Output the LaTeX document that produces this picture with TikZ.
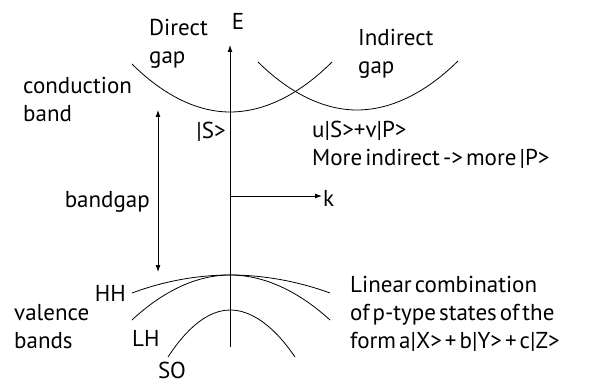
\documentclass[tikz,border=0pt]{standalone}
\usepackage{fontspec}
\setmainfont{PT Sans}[WordSpace=0.5]
\usetikzlibrary{arrows.meta}

\begin{document}
\begin{tikzpicture}[x=1pt,y=-1pt,>={Latex[length=7pt,width=5pt]},
  lbl/.style={inner sep=0pt,align=left,font=\fontsize{23}{28}\selectfont},
  band/.style={line width=0.8pt},
  axis/.style={line width=0.9pt,->}]
\useasboundingbox (0,0) rectangle (591,385);
% axes
\coordinate (e_bot) at (230,347);
\coordinate (e_top) at (230,45);
\coordinate (k_org) at (230,196);
\coordinate (k_end) at (322,196);
\draw[axis] (e_bot)--(e_top);
\draw[axis] (k_org)--(k_end);
\node[lbl] (lbl_e) at (238,21) {E};
\node[lbl,anchor=west] (lbl_k) at ([xshift=1pt,yshift=-2pt]k_end) {k};
% conduction bands
\draw[band] (132,64) parabola bend (230,112) (332,62);
\draw[band] (258,62) parabola bend (357,110) (458,61);
% valence bands
\draw[band] (132,293) parabola bend (230,275) (330,293);
\draw[band] (132,320) parabola bend (230,275) (330,320);
\draw[band] (168,357) parabola bend (230,310) (295,357);
% bandgap
\coordinate (gap_top) at (158,110);
\coordinate (gap_bot) at (158,272);
\draw[line width=0.9pt,<->] (gap_top)--(gap_bot);
\node[lbl,anchor=east] (lbl_gap) at (150,202) {bandgap};
% labels
\node[lbl,anchor=west] (lbl_dir) at (149,44) {Direct\\gap};
\node[lbl,anchor=west] (lbl_ind) at (358,54) {Indirect\\gap};
\node[lbl,anchor=west] (lbl_cb) at (23,99) {conduction\\band};
\node[lbl] (lbl_s) at (211,132) {|S>};
\node[lbl,anchor=west] (lbl_mix) at (312,145) {u|S>+v|P>\\More indirect -> more |P>};
\node[lbl,anchor=east] (lbl_hh) at (126,293) {HH};
\node[lbl,anchor=west] (lbl_lh) at (132,338) {LH};
\node[lbl] (lbl_so) at (172,370) {SO};
\node[lbl,anchor=west] (lbl_vb) at (14,327) {valence\\bands};
\node[lbl,anchor=west] (lbl_lin) at (350,314) {Linear combination\\of p-type states of the\\form a|X> + b|Y> + c|Z>};
\end{tikzpicture}
\end{document}
